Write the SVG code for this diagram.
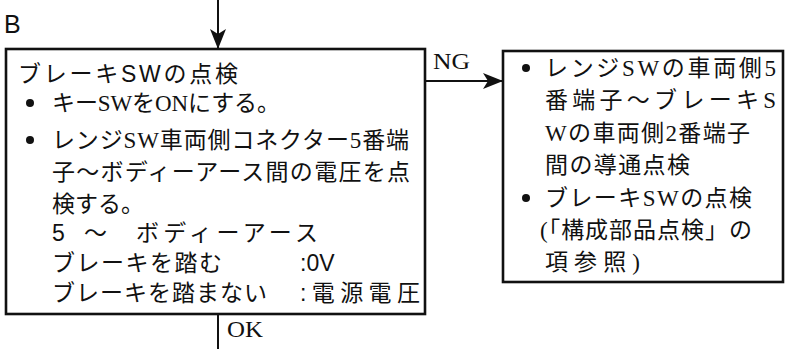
<svg xmlns="http://www.w3.org/2000/svg" width="786" height="349" viewBox="0 0 786 349">
<defs>
<marker id="ah" viewBox="0 0 20 16" refX="19" refY="8" markerWidth="20" markerHeight="16" markerUnits="userSpaceOnUse" orient="auto">
<path d="M0,0 L20,8 L0,16 L5,8 Z" fill="#111"/>
</marker>
<style>
.box{fill:#fff;stroke:#111;stroke-width:2.6}
.ln{stroke:#111;stroke-width:2;fill:none}
.t{font-family:"Liberation Serif","Noto Sans CJK JP",serif;font-size:23px;fill:#111}
.g{font-family:"Liberation Sans","Noto Sans CJK JP",sans-serif;font-size:23px;fill:#111}
.lbl{font-family:"Liberation Serif",serif;font-size:23px;fill:#111}
.dot{fill:#111}
</style>
</defs>
<rect width="786" height="349" fill="#fff"/>
<text x="4" y="33" font-family="Liberation Sans, sans-serif" font-size="25" fill="#111">B</text>
<g id="connectors">
<line class="ln" x1="218" y1="0" x2="218" y2="48" marker-end="url(#ah)"/>
<line class="ln" x1="425" y1="81" x2="502" y2="81" marker-end="url(#ah)"/>
<line class="ln" x1="218" y1="314" x2="218" y2="349"/>
<text class="lbl" x="433" y="69" textLength="37" lengthAdjust="spacingAndGlyphs">NG</text>
<text class="lbl" x="227" y="337" textLength="36" lengthAdjust="spacingAndGlyphs">OK</text>
</g>
<g id="node-check">
<rect class="box" x="6" y="49" width="419" height="265"/>
<text class="g" x="18" y="82" textLength="220" lengthAdjust="spacing">ブレーキSWの点検</text>
<circle class="dot" cx="30" cy="103" r="4"/>
<text class="t" x="52" y="111" textLength="228" lengthAdjust="spacing">キーSWをONにする。</text>
<circle class="dot" cx="30" cy="140" r="4"/>
<text class="t" x="52" y="148" textLength="357" lengthAdjust="spacing">レンジSW車両側コネクター5番端</text>
<text class="t" x="52" y="180" textLength="358" lengthAdjust="spacing">子～ボディーアース間の電圧を点</text>
<text class="t" x="52" y="212">検する。</text>
<text class="g" x="52" y="241">5</text>
<text class="g" x="84" y="241">～</text>
<text class="g" x="136" y="241" textLength="182" lengthAdjust="spacing">ボディーアース</text>
<text class="g" x="52" y="271" textLength="170" lengthAdjust="spacing">ブレーキを踏む</text>
<text class="g" x="300" y="271">:0V</text>
<text class="g" x="52" y="301" textLength="215" lengthAdjust="spacing">ブレーキを踏まない</text>
<text class="g" x="300" y="301" textLength="120" lengthAdjust="spacing">:電源電圧</text>
</g>
<g id="node-ng">
<rect class="box" x="503" y="51" width="280" height="231"/>
<circle class="dot" cx="526" cy="68" r="4"/>
<text class="t" x="545" y="76" textLength="231" lengthAdjust="spacing">レンジSWの車両側5</text>
<text class="t" x="545" y="108" textLength="231" lengthAdjust="spacing">番端子～ブレーキS</text>
<text class="t" x="545" y="141" textLength="205" lengthAdjust="spacing">Wの車両側2番端子</text>
<text class="t" x="545" y="173" textLength="145" lengthAdjust="spacing">間の導通点検</text>
<circle class="dot" cx="526" cy="198" r="4"/>
<text class="t" x="545" y="206" textLength="207" lengthAdjust="spacing">ブレーキSWの点検</text>
<text class="t" x="540" y="238" textLength="212" lengthAdjust="spacing">(「構成部品点検」の</text>
<text class="t" x="545" y="270" textLength="95" lengthAdjust="spacing">項参照)</text>
</g>
</svg>
